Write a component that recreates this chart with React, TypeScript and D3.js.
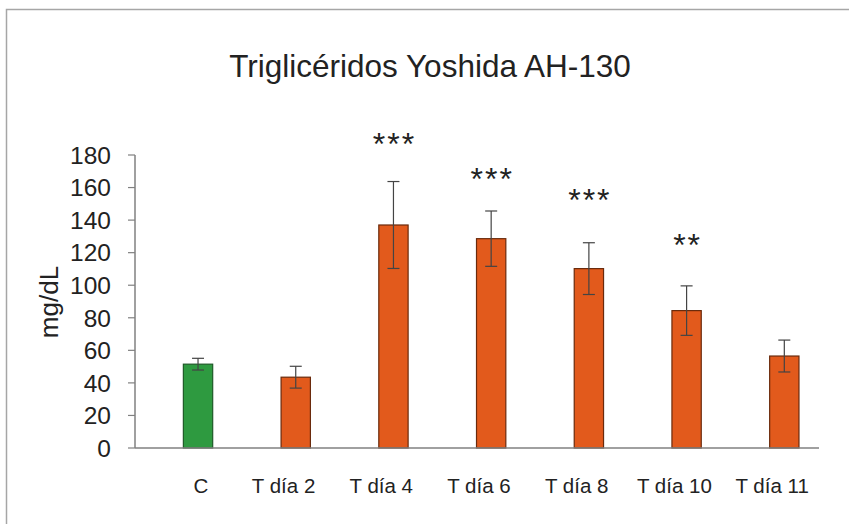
import React from "react";
import * as d3 from "d3";

const categories = ["C", "T día 2", "T día 4", "T día 6", "T día 8", "T día 10", "T día 11"];
const means = [51.5, 43.5, 137, 128.6, 110.2, 84.4, 56.5];
const errors = [3.6, 6.7, 26.7, 17, 15.9, 15.2, 9.8];
const groups = ["control", "treated", "treated", "treated", "treated", "treated", "treated"];
const yTicks = [0, 20, 40, 60, 80, 100, 120, 140, 160, 180];
// significance marks and the value level they sit at
const sigCategories = ["T día 4", "T día 6", "T día 8", "T día 10"];
const sigLabels = ["***", "***", "***", "**"];
const sigLevels = [191, 169.5, 157, 129];

const W = 849;
const H = 524;
const FONT = "'Liberation Sans', Arial, sans-serif";

const fills: Record<string, string> = { control: "#2e9a40", treated: "#e25a1c" };
const strokes: Record<string, string> = { control: "#1e5a28", treated: "#6a2a0c" };

export default function App() {
  const x = d3.scaleBand<string>().domain(categories).range([135, 819]).paddingInner(0).paddingOuter(0);
  const y = d3.scaleLinear().domain([0, 180]).range([448, 155]);
  const bw = x.bandwidth();
  const barW = bw * 0.3;
  const barShift = bw * 0.145;
  const center = (c: string) => (x(c) ?? 0) + bw / 2 + barShift;
  const labelX = (c: string, i: number) => (x(c) ?? 0) + bw / 2 + (i === 0 ? 17 : 2);

  return (
    <svg width={W} height={H} style={{ position: "absolute", left: 0, top: 0, background: "#fff" }}>
      <rect x={6.5} y={9.5} width={W + 20} height={H + 20} fill="#fff" stroke="#a6a6a6" strokeWidth={1.5} />
      <text x={430} y={77} textAnchor="middle" fontFamily={FONT} fontSize={31.5} fill="#222">
        Triglicéridos Yoshida AH-130
      </text>

      {/* y axis */}
      <line x1={135} x2={135} y1={y(180)} y2={y(0)} stroke="#808080" strokeWidth={1.5} />
      {yTicks.map((t) => (
        <g key={t}>
          <line x1={128} x2={135} y1={y(t)} y2={y(t)} stroke="#808080" strokeWidth={1.2} />
          <text x={111} y={y(t)} dy="0.36em" textAnchor="end" fontFamily={FONT} fontSize={24.5} fill="#222">
            {t}
          </text>
        </g>
      ))}
      <text
        transform={`translate(58,302) rotate(-90)`}
        textAnchor="middle"
        fontFamily={FONT}
        fontSize={26}
        fill="#222"
      >
        mg/dL
      </text>

      {/* bars */}
      {categories.map((c, i) => {
        const cx = center(c);
        const g = groups[i];
        return (
          <g key={c}>
            <rect
              x={cx - barW / 2}
              y={y(means[i])}
              width={barW}
              height={y(0) - y(means[i])}
              fill={fills[g]}
              stroke={strokes[g]}
              strokeWidth={1.2}
            />
            <line x1={cx} x2={cx} y1={y(means[i] + errors[i])} y2={y(means[i] - errors[i])} stroke="#444" strokeWidth={1.2} />
            <line x1={cx - 6} x2={cx + 6} y1={y(means[i] + errors[i])} y2={y(means[i] + errors[i])} stroke="#444" strokeWidth={1.2} />
            <line x1={cx - 6} x2={cx + 6} y1={y(means[i] - errors[i])} y2={y(means[i] - errors[i])} stroke="#444" strokeWidth={1.2} />
          </g>
        );
      })}

      {/* x axis */}
      <line x1={135} x2={819} y1={y(0)} y2={y(0)} stroke="#808080" strokeWidth={1.5} />
      {categories.map((c, i) => (
        <text key={c} x={labelX(c, i)} y={493} textAnchor="middle" fontFamily={FONT} fontSize={20.5} fill="#222">
          {c}
        </text>
      ))}

      {/* significance */}
      {sigCategories.map((c, i) => (
        <text
          key={c}
          x={center(c) + 1}
          y={y(sigLevels[i])}
          dy="0.57em"
          textAnchor="middle"
          fontFamily={FONT}
          fontSize={32}
          letterSpacing={2}
          fill="#222"
        >
          {sigLabels[i]}
        </text>
      ))}
    </svg>
  );
}
